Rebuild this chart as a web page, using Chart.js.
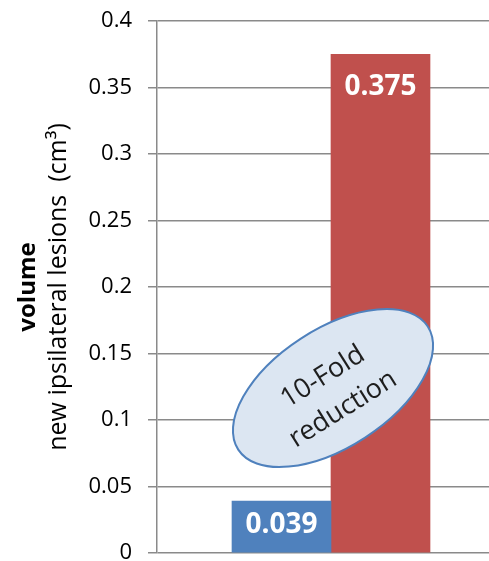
<!DOCTYPE html>
<html>
<head>
<meta charset="utf-8">
<script src="https://cdn.jsdelivr.net/npm/chart.js@4.4.1/dist/chart.umd.min.js"></script>
<style>
  html, body { margin: 0; padding: 0; overflow: hidden; background: #ffffff; }
  #wrap { width: 489px; height: 561px; overflow: hidden; position: relative; }
  canvas { display: block; }
</style>
</head>
<body>
<div id="wrap"><canvas id="c" width="505" height="567" style="width:505px;height:567px"></canvas></div>
<script>
// ---- data ----
const categories = [''];
const seriesNames = ['Series 1', 'Series 2'];
const blueValues = [0.039];
const redValues = [0.375];
const barLabels = [['0.039'], ['0.375']];
const yMin = 0, yMax = 0.4, yStep = 0.05;
const yTitleBold = 'volume';
const yTitleLine = 'new ipsilateral lesions  (cm³)';
const noteLines = ['10-Fold', 'reduction'];
const noteValueY = 0.124; // annotation centre, in axis units

const FONT = "'Open Sans', 'DejaVu Sans', sans-serif";
const gridColor = '#8a8a8a';

const overlay = {
  id: 'overlay',
  afterDatasetsDraw(chart) {
    const ctx = chart.ctx;
    const ys = chart.scales.y, xs = chart.scales.x;
    // bar value labels
    chart.data.datasets.forEach((ds, di) => {
      const meta = chart.getDatasetMeta(di);
      meta.data.forEach((bar, i) => {
        const top = bar.y, base = bar.base;
        const cy = Math.min(top + 33, (top + base) / 2 - 2);
        ctx.save();
        ctx.fillStyle = '#ffffff';
        ctx.font = "bold 28px " + FONT;
        ctx.textAlign = 'center';
        ctx.textBaseline = 'middle';
        ctx.fillText(barLabels[di][i], bar.x, cy);
        ctx.restore();
      });
    });
    // ellipse annotation
    const cx = xs.getPixelForValue(0) + 2;
    const cy = ys.getPixelForValue(noteValueY);
    ctx.save();
    ctx.beginPath();
    ctx.ellipse(cx, cy, 113, 59, -33 * Math.PI / 180, 0, Math.PI * 2);
    ctx.fillStyle = '#dce6f2';
    ctx.fill();
    ctx.lineWidth = 2;
    ctx.strokeStyle = '#4f81bd';
    ctx.stroke();
    ctx.translate(cx, cy + 5);
    ctx.rotate(-32 * Math.PI / 180);
    ctx.fillStyle = '#1e1e1e';
    ctx.font = "27px " + FONT;
    ctx.textAlign = 'center';
    ctx.textBaseline = 'middle';
    ctx.fillText(noteLines[0], 0, -19);
    ctx.fillText(noteLines[1], 0, 19);
    ctx.restore();
    // y axis title (two lines, first bold)
    const midY = (chart.chartArea.top + chart.chartArea.bottom) / 2;
    ctx.save();
    ctx.fillStyle = '#000000';
    ctx.textAlign = 'center';
    ctx.textBaseline = 'alphabetic';
    ctx.translate(35, midY);
    ctx.rotate(-Math.PI / 2);
    ctx.font = "bold 24px " + FONT;
    ctx.fillText(yTitleBold, 0, 0);
    ctx.restore();
    ctx.save();
    ctx.fillStyle = '#000000';
    ctx.textAlign = 'center';
    ctx.textBaseline = 'alphabetic';
    ctx.translate(66, midY);
    ctx.rotate(-Math.PI / 2);
    ctx.font = "25px " + FONT;
    ctx.fillText(yTitleLine, 0, 0);
    ctx.restore();
  }
};

new Chart(document.getElementById('c'), {
  type: 'bar',
  data: {
    labels: categories,
    datasets: [
      { label: seriesNames[0], data: blueValues, backgroundColor: '#4f81bd', borderWidth: 0, barThickness: 99 },
      { label: seriesNames[1], data: redValues, backgroundColor: '#c0504d', borderWidth: 0, barThickness: 99 }
    ]
  },
  options: {
    responsive: false,
    animation: false,
    devicePixelRatio: 1,
    layout: { padding: { top: 21, bottom: 14, left: 0, right: 0 } },
    plugins: { legend: { display: false }, tooltip: { enabled: false } },
    scales: {
      x: { display: false },
      y: {
        min: yMin, max: yMax,
        afterFit(scale) { scale.width = 157; scale.paddingTop = 0; scale.paddingBottom = 0; },
        ticks: {
          stepSize: yStep,
          padding: 16,
          color: '#000000',
          font: { family: FONT, size: 22 },
          callback: v => String(Number(v.toFixed(2)))
        },
        grid: { color: gridColor, lineWidth: 1.5, tickLength: 9, tickColor: gridColor },
        border: { display: true, color: gridColor, width: 1.5 }
      }
    }
  },
  plugins: [overlay]
});
</script>
</body>
</html>
